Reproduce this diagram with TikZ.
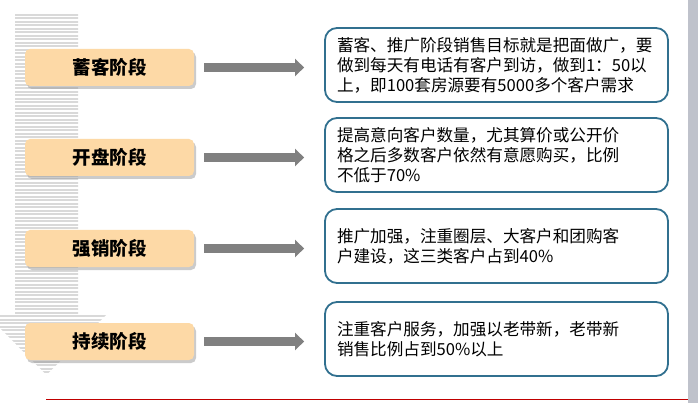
\documentclass[tikz,border=0pt]{standalone}
\usepackage{fontspec}
\setmainfont{Noto Sans CJK SC}
\usetikzlibrary{arrows.meta,shadows}
\definecolor{peach}{HTML}{FDD9A6}
\definecolor{boxline}{HTML}{31708F}
\definecolor{arrowgray}{HTML}{808080}
\definecolor{stripegray}{HTML}{D9D9D9}
\definecolor{sidegray}{HTML}{BFC2CB}
\definecolor{redline}{HTML}{C00000}
\begin{document}
\begin{tikzpicture}[x=1pt,y=-1pt,
  stage/.style={fill=peach, rounded corners=5pt, minimum width=169pt, minimum height=37pt, inner sep=0pt,
    font=\bfseries\fontsize{18.5}{20}\selectfont,
    drop shadow={shadow xshift=2pt, shadow yshift=-3pt, fill=black!40}},
  info/.style={draw=boxline, line width=1.8pt, rounded corners=12pt, fill=white,
    minimum width=343pt, minimum height=74pt, text width=319pt, align=left,
    inner xsep=12pt, inner ysep=0pt, font=\fontsize{16.6}{20}\selectfont},
  bigarrow/.style={draw=arrowgray, line width=9pt, shorten <=10pt, shorten >=20pt,
    -{Triangle[length=9pt,width=17pt]}}
]
\clip (0,0) rectangle (698,403);
\fill[white] (0,0) rectangle (698,403);
\fill[sidegray] (688,0) rectangle (698,403);
\draw[redline, line width=1pt] (46,399) -- (688,399);
% striped down arrow
\begin{scope}
  \clip (15,14) -- (78,14) -- (78,314) -- (107,314) -- (46.5,375) -- (-14,314) -- (15,314) -- cycle;
  \foreach \k in {0,...,105} \fill[stripegray] (-20,{14+3.5*\k}) rectangle (115,{14+3.5*\k+2});
\end{scope}
% stage boxes
\node[stage] (s1) at (109.5,67.5) {蓄客阶段};
\node[stage] (s2) at (109.5,157.5) {开盘阶段};
\node[stage] (s3) at (109.5,248.5) {强销阶段};
\node[stage] (s4) at (109.5,341.5) {持续阶段};
% text boxes
\node[info] (t1) at (496.5,65) {蓄客、推广阶段销售目标就是把面做广，要\\做到每天有电话有客户到访，做到1：50以\\上，即100套房源要有5000多个客户需求};
\node[info] (t2) at (496.5,155) {提高意向客户数量，尤其算价或公开价\\格之后多数客户依然有意愿购买，比例\\不低于70\%};
\node[info] (t3) at (496.5,246) {推广加强，注重圈层、大客户和团购客\\户建设，这三类客户占到40\%};
\node[info] (t4) at (496.5,339) {注重客户服务，加强以老带新，老带新\\销售比例占到50\%以上};
% arrows
\foreach \i in {1,2,3,4}
  \draw[bigarrow] (s\i.east) -- (s\i.east -| t\i.west);
\end{tikzpicture}
\end{document}
